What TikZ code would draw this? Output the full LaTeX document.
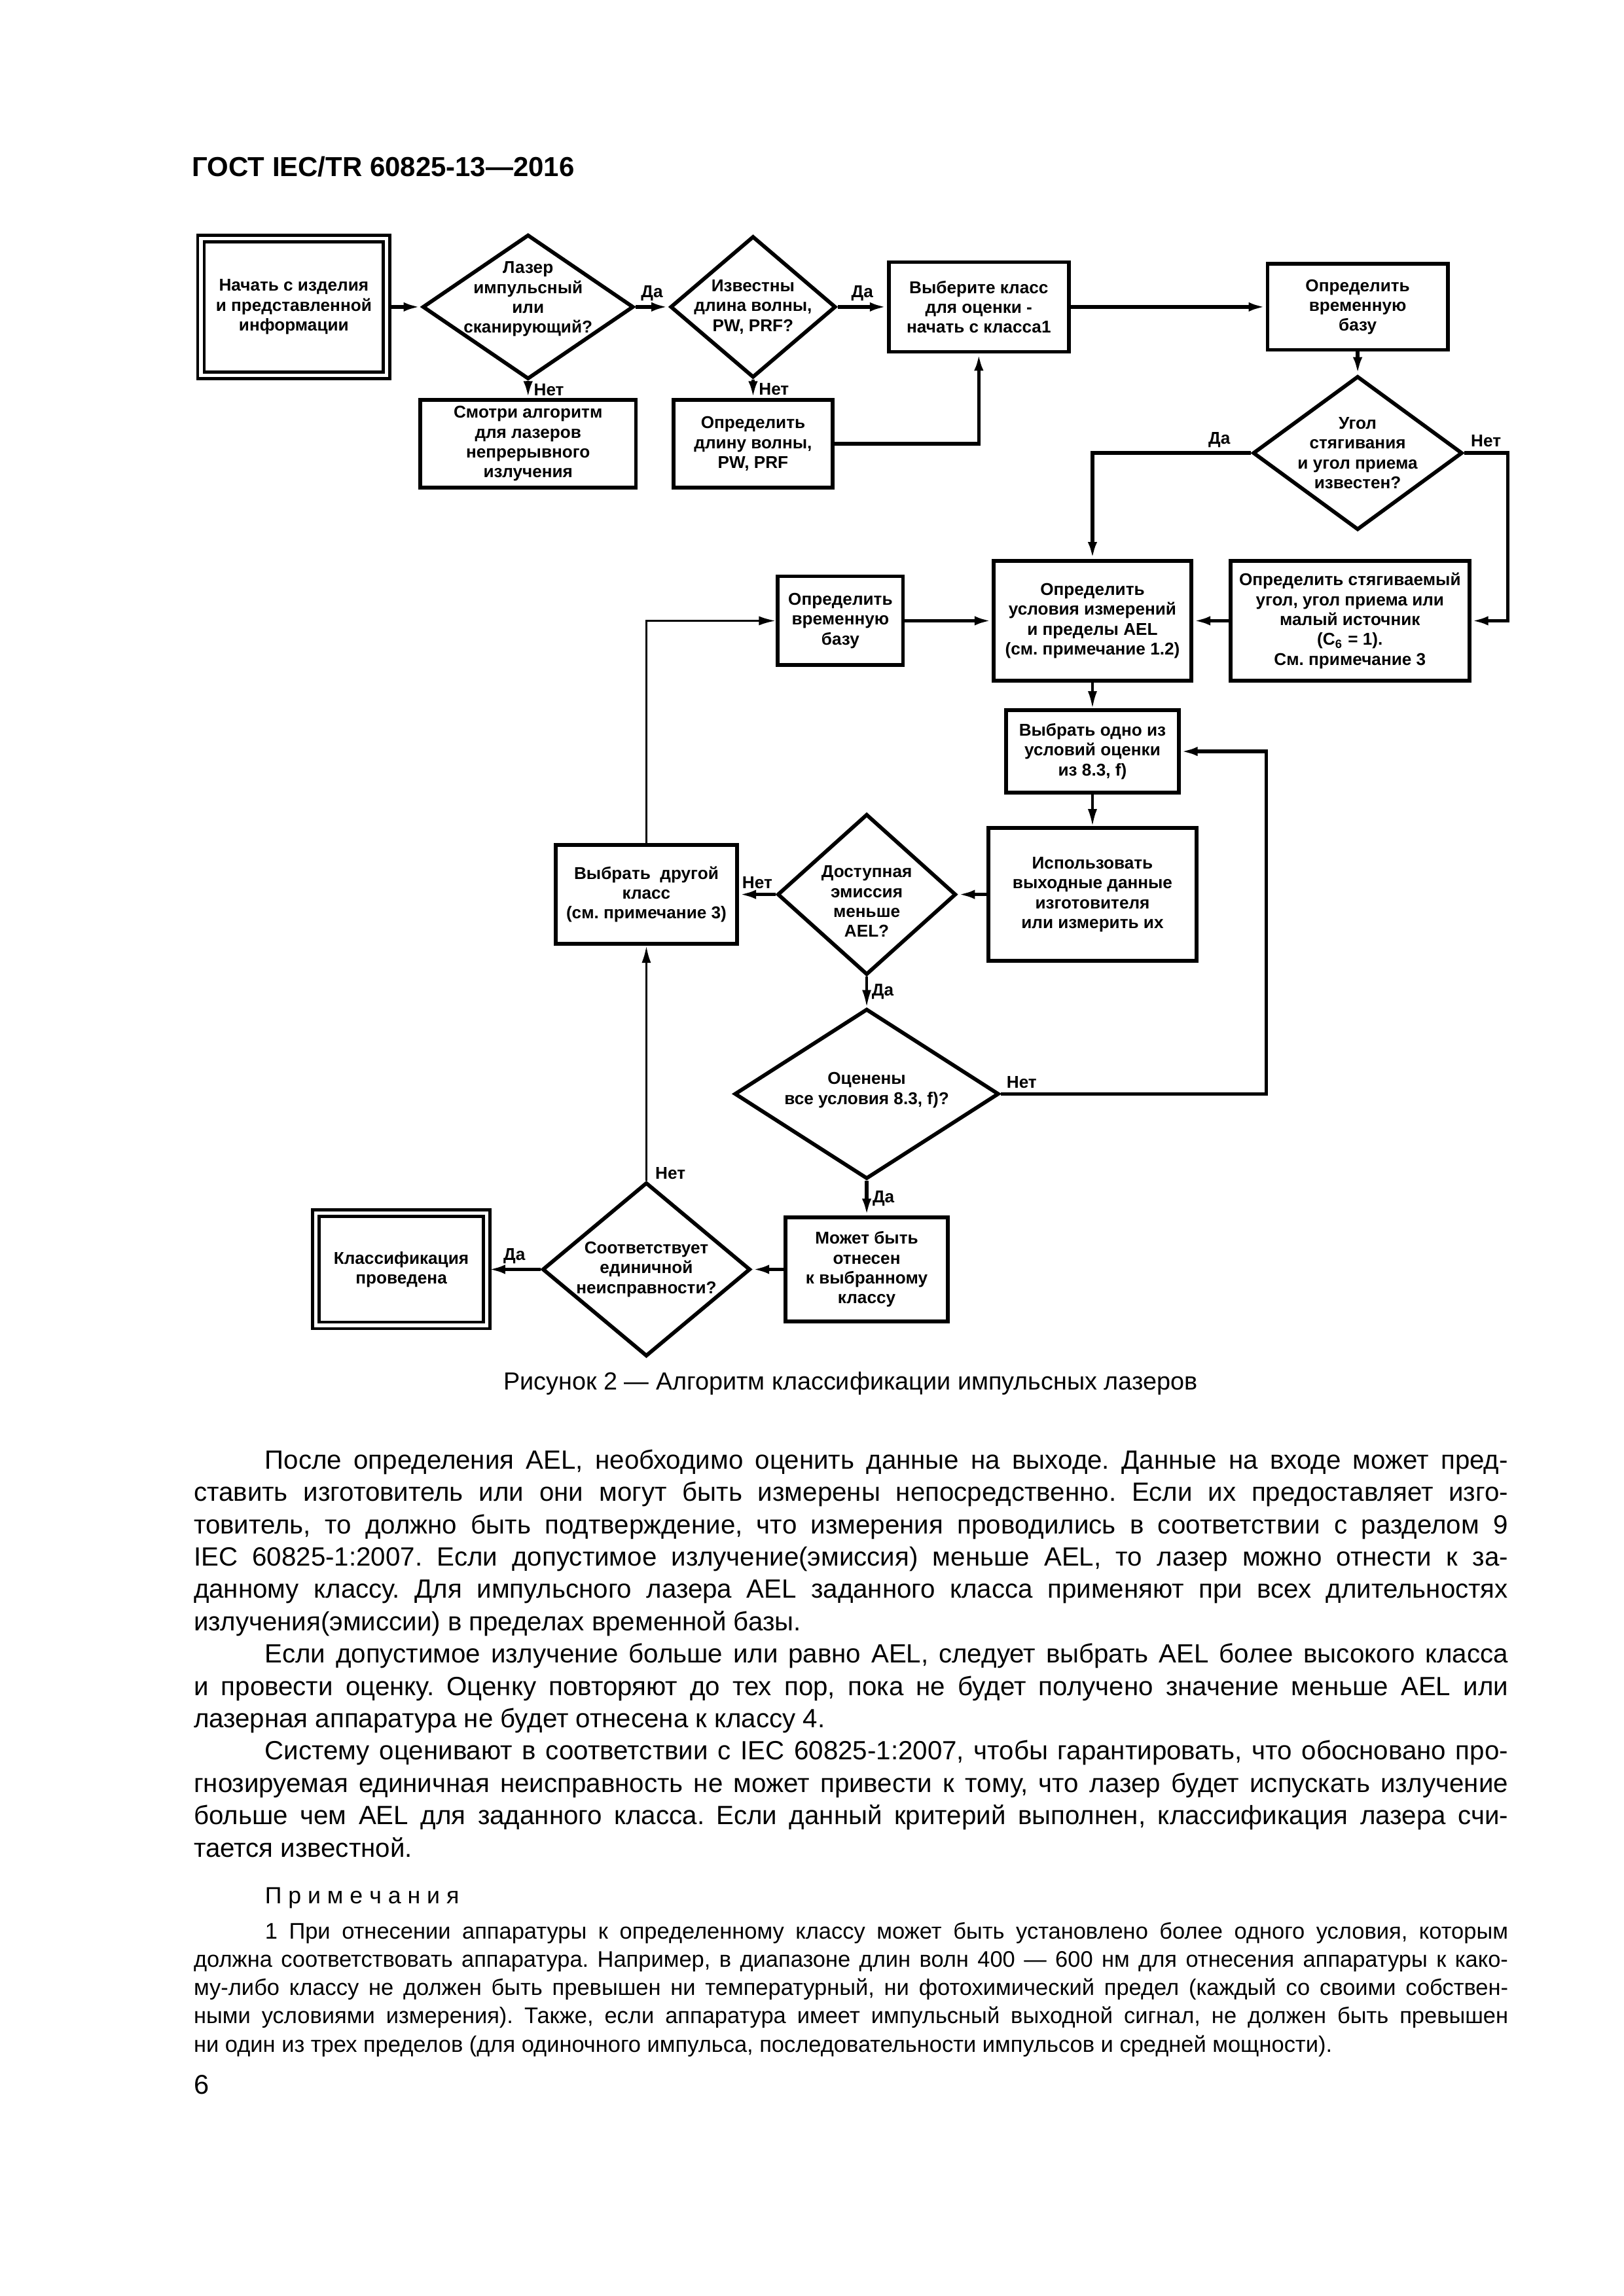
\documentclass[tikz,border=0pt]{standalone}
\usepackage{fontspec}
\setmainfont{Liberation Sans}
\usetikzlibrary{shapes.geometric,arrows.meta}
\frenchspacing

\begin{document}
\begin{tikzpicture}[
  >={Latex[length=2.2mm,width=1.2mm]},
  fc/.style={font=\bfseries\fontsize{6.3}{7.3}\selectfont},
  box/.style={fc, draw, line width=1.4pt, align=center, inner sep=0pt},
  dbox/.style={box, double, line width=0.4mm, double distance=0.45mm},
  dia/.style={draw, diamond, line width=1.4pt, inner sep=0pt},
  dtxt/.style={fc, align=center, inner sep=0pt},
  lbl/.style={fc, inner sep=1.5pt},
  arr/.style={draw, line width=1.3pt, ->},
  arrt/.style={draw, line width=0.8pt, ->},
  txt/.style={anchor=base west, inner sep=0pt, text width=17.0cm, align=justify,
    execute at begin node={\frenchspacing\tolerance=9999\hyphenpenalty=10000\exhyphenpenalty=10000}}
]
\useasboundingbox (0,0) rectangle (21,-29.7);

\node[anchor=base west, inner sep=0pt, font=\bfseries\fontsize{10.1}{12}\selectfont] (head) at (2.48,-2.28) {ГОСТ IEC/TR 60825-13—2016};

% flowchart
\node[dbox, minimum width=2.40cm, minimum height=1.77cm] (1) at (3.80,-3.97) {Начать с изделия\\и представленной\\информации};
\node[dia, minimum width=2.73cm, minimum height=1.87cm, label={[dtxt, yshift=1mm]center:{Лазер\\импульсный\\или\\сканирующий?}}] (2) at (6.83,-3.97) {};
\node[dia, minimum width=2.14cm, minimum height=1.83cm, label={[dtxt]center:{Известны\\длина волны,\\PW, PRF?}}] (3) at (9.74,-3.97) {};
\node[box, minimum width=2.33cm, minimum height=1.16cm] (4) at (12.66,-3.97) {Выберите класс\\для оценки -\\начать с класса1};
\node[box, minimum width=2.79cm, minimum height=1.13cm] (5) at (6.83,-5.74) {Смотри алгоритм\\для лазеров\\непрерывного\\излучения};
\node[box, minimum width=2.06cm, minimum height=1.13cm] (6) at (9.74,-5.74) {Определить\\длину волны,\\PW, PRF};
\node[box, minimum width=2.33cm, minimum height=1.11cm] (7) at (17.56,-3.97) {Определить\\временную\\базу};
\node[dia, minimum width=2.71cm, minimum height=1.99cm, label={[dtxt]center:{Угол\\стягивания\\и угол приема\\известен?}}] (8) at (17.56,-5.86) {};
\node[box, minimum width=2.56cm, minimum height=1.55cm] (9) at (14.13,-8.03) {Определить\\условия измерений\\и пределы AEL\\(см. примечание 1.2)};
\node[box, minimum width=3.09cm, minimum height=1.55cm] (10) at (17.46,-8.03) {Определить стягиваемый\\угол, угол приема или\\малый источник\\(C\textsubscript{6} = 1).\\См. примечание 3};
\node[box, minimum width=1.62cm, minimum height=1.15cm] (11) at (10.87,-8.03) {Определить\\временную\\базу};
\node[box, minimum width=2.23cm, minimum height=1.07cm] (12) at (14.13,-9.72) {Выбрать одно из\\условий оценки\\из 8.3, f)};
\node[box, minimum width=2.69cm, minimum height=1.72cm] (13) at (14.13,-11.57) {Использовать\\выходные данные\\изготовителя\\или измерить их};
\node[dia, minimum width=2.31cm, minimum height=2.08cm, label={[dtxt, yshift=-0.9mm]center:{Доступная\\эмиссия\\меньше\\AEL?}}] (14) at (11.21,-11.57) {};
\node[box, minimum width=2.35cm, minimum height=1.28cm] (15) at (8.36,-11.57) {Выбрать~ другой\\класс\\(см. примечание 3)};
\node[dia, minimum width=3.42cm, minimum height=2.20cm, label={[dtxt, yshift=0.5mm]center:{Оценены\\все условия 8.3, f)?}}] (16) at (11.21,-14.15) {};
\node[box, minimum width=2.10cm, minimum height=1.34cm] (17) at (11.21,-16.42) {Может быть\\отнесен\\к выбранному\\классу};
\node[dia, minimum width=2.69cm, minimum height=2.25cm, label={[dtxt]center:{Соответствует\\единичной\\неисправности?}}] (18) at (8.36,-16.42) {};
\node[dbox, minimum width=2.21cm, minimum height=1.45cm] (19) at (5.19,-16.42) {Классификация\\проведена};

\coordinate (c1) at (19.50,-8.03);
\coordinate (c2) at (16.38,-9.72);

\path[arr] (1) -- (2);
\path[arr] (2) -- node[lbl, above] {Да} (3);
\path[arr] (3) -- node[lbl, above] {Да} (4);
\path[arr] (2) -- node[lbl, right] {Нет} (5);
\path[arr] (3) -- node[lbl, right] {Нет} (6);
\path[arr] (6.east) -| (4.south);
\path[arr] (4) -- (7);
\path[arr] (7) -- (8);
\path[arr] (8.west) -| node[lbl, above, pos=0.1] {Да} (9.north);
\path[arr] (8.east) -| node[lbl, above, pos=0.25] {Нет} (c1) -- (10.east);
\path[arr] (10) -- (9);
\path[arr] (11) -- (9);
\path[arrt] (9) -- (12);
\path[arrt] (12) -- (13);
\path[arr] (13) -- (14);
\path[arr] (14) -- node[lbl, above] {Нет} (15);
\path[arrt] (14) -- node[lbl, right] {Да} (16);
\path[arr] (16.east) -| node[lbl, above right, pos=0] {Нет} (c2) -- (12.east);
\path[arr] (16) -- node[lbl, right] {Да} (17);
\path[arr] (17) -- (18);
\path[arrt] (18) -- node[lbl, right, pos=0.03, xshift=0.5mm] {Нет} (15);
\path[arr] (18) -- node[lbl, above] {Да} (19);
\path[arrt] (15.north) |- (11.west);

% caption and text
\node[anchor=base, inner sep=0pt, font=\fontsize{9.1}{11}\selectfont] (cap) at (11.0,-17.98) {Рисунок 2 — Алгоритм классификации импульсных лазеров};

\node[txt, font=\fontsize{9.7}{11.9}\selectfont] (body) at (2.50,-19.00) {%
\hspace*{9.2mm}После определения AEL, необходимо оценить данные на выходе. Данные на входе может пред-\linebreak
ставить изготовитель или они могут быть измерены непосредственно. Если их предоставляет изго-\linebreak
товитель, то должно быть подтверждение, что измерения проводились в соответствии с разделом 9\linebreak
IEC 60825-1:2007. Если допустимое излучение(эмиссия) меньше AEL, то лазер можно отнести к за-\linebreak
данному классу. Для импульсного лазера AEL заданного класса применяют при всех длительностях\linebreak
излучения(эмиссии) в пределах временной базы.\par
\hspace*{9.2mm}Если допустимое излучение больше или равно AEL, следует выбрать AEL более высокого класса\linebreak
и провести оценку. Оценку повторяют до тех пор, пока не будет получено значение меньше AEL или\linebreak
лазерная аппаратура не будет отнесена к классу 4.\par
\hspace*{9.2mm}Систему оценивают в соответствии с IEC 60825-1:2007, чтобы гарантировать, что обосновано про-\linebreak
гнозируемая единичная неисправность не может привести к тому, что лазер будет испускать излучение\linebreak
больше чем AEL для заданного класса. Если данный критерий выполнен, классификация лазера счи-\linebreak
тается известной.};

\node[anchor=base west, inner sep=0pt, font=\fontsize{8.6}{11}\selectfont] (prim) at (3.42,-24.62) {П р и м е ч а н и я};

\node[txt, font=\fontsize{8.3}{10.4}\selectfont] (notes) at (2.50,-25.08) {%
\hspace*{9.2mm}1 При отнесении аппаратуры к определенному классу может быть установлено более одного условия, которым\linebreak
должна соответствовать аппаратура. Например, в диапазоне длин волн 400 — 600 нм для отнесения аппаратуры к како-\linebreak
му-либо классу не должен быть превышен ни температурный, ни фотохимический предел (каждый со своими собствен-\linebreak
ными условиями измерения). Также, если аппаратура имеет импульсный выходной сигнал, не должен быть превышен\linebreak
ни один из трех пределов (для одиночного импульса, последовательности импульсов и средней мощности).};

\node[anchor=base west, inner sep=0pt, font=\fontsize{10}{12}\selectfont] (pnum) at (2.50,-27.09) {6};
\end{tikzpicture}
\end{document}
